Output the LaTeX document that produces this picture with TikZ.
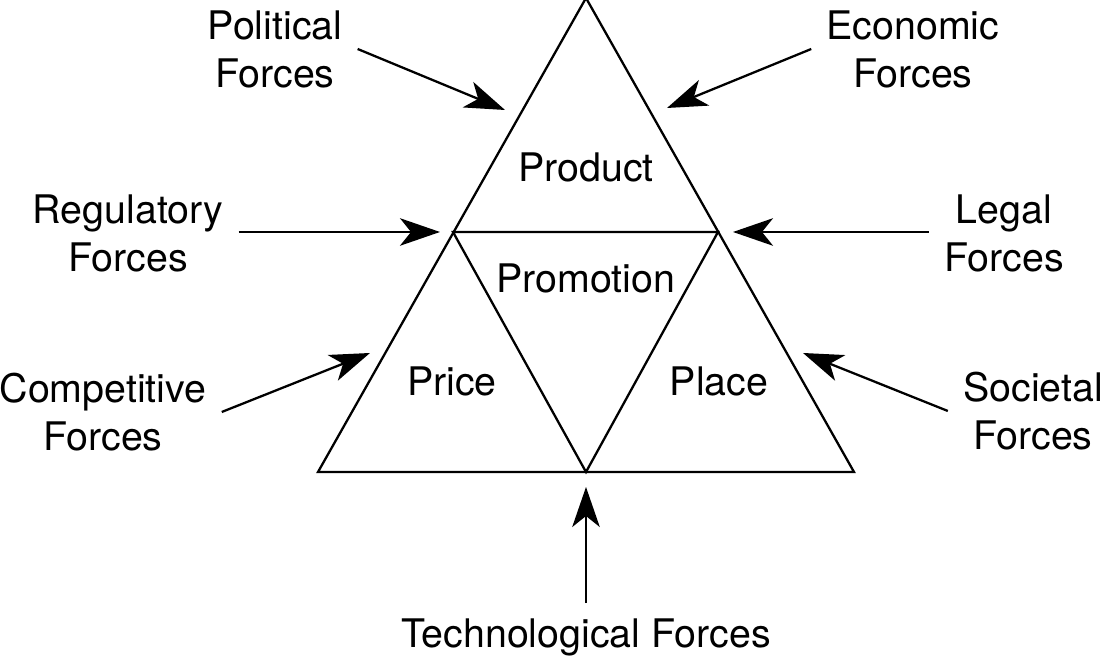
\documentclass[tikz,border=0pt]{standalone}
\usepackage{fontspec}
\setmainfont{TeX Gyre Heros}
\usepackage{tikz}
\usetikzlibrary{arrows.meta,positioning}

\begin{document}
\begin{tikzpicture}[
    forcelbl/.style={align=center,inner sep=0.3cm,font=\fontsize{22.4}{27.3}\selectfont},
    partlbl/.style={inner sep=0pt,font=\fontsize{22.4}{27.3}\selectfont},
    forcearrow/.style={line width=1.3pt,-{Stealth[length=0.8cm,width=0.55cm,inset=0.22cm]}},
    edge/.style={line width=1.3pt,line join=miter}]
        \useasboundingbox (0,0) rectangle (22.1,13.14);
        \coordinate (apex) at (11.72,13.18);
        \coordinate (botL) at (6.36,3.70);
        \coordinate (botR) at (17.08,3.70);
        \coordinate (botM) at (11.72,3.70);
        \coordinate (midL) at (9.06,8.50);
        \coordinate (midR) at (14.36,8.50);
        \draw[edge] (apex) -- (botL) -- (botR) -- cycle;
        \draw[edge] (midL) -- (midR) -- (botM) -- cycle;
        \node[partlbl] (product) at (11.72,9.80) {Product};
        \node[partlbl] (promotion) at (11.72,7.58) {Promotion};
        \node[partlbl] (price) at (9.04,5.52) {Price};
        \node[partlbl] (place) at (14.38,5.52) {Place};
        \node[forcelbl] (political) at (5.50,12.16) {Political\\Forces};
        \node[forcelbl] (economic) at (18.26,12.16) {Economic\\Forces};
        \node[forcelbl] (regulatory) at (2.56,8.48) {Regulatory\\Forces};
        \node[forcelbl] (legal) at (20.08,8.48) {Legal\\Forces};
        \node[forcelbl] (competitive) at (2.06,4.90) {Competitive\\Forces};
        \node[forcelbl] (societal) at (20.66,4.92) {Societal\\Forces};
        \node[forcelbl] (technological) at (11.72,0.40) {Technological Forces};
        \coordinate (polTip) at (10.10,10.94);
        \coordinate (ecoTip) at (13.34,10.98);
        \coordinate (regTip) at (8.80,8.50);
        \coordinate (legTip) at (14.66,8.50);
        \coordinate (comTip) at (7.40,6.08);
        \coordinate (socTip) at (16.06,6.08);
        \coordinate (tecTip) at (11.72,3.40);
        \draw[forcearrow] (political.east) -- (polTip);
        \draw[forcearrow] (economic.west) -- (ecoTip);
        \draw[forcearrow] (regulatory.east |- regTip) -- (regTip);
        \draw[forcearrow] (legal.west |- legTip) -- (legTip);
        \draw[forcearrow] (competitive.east) -- (comTip);
        \draw[forcearrow] (societal.west) -- (socTip);
        \draw[forcearrow] (technological.north) -- (tecTip);
      \end{tikzpicture}
\end{document}
